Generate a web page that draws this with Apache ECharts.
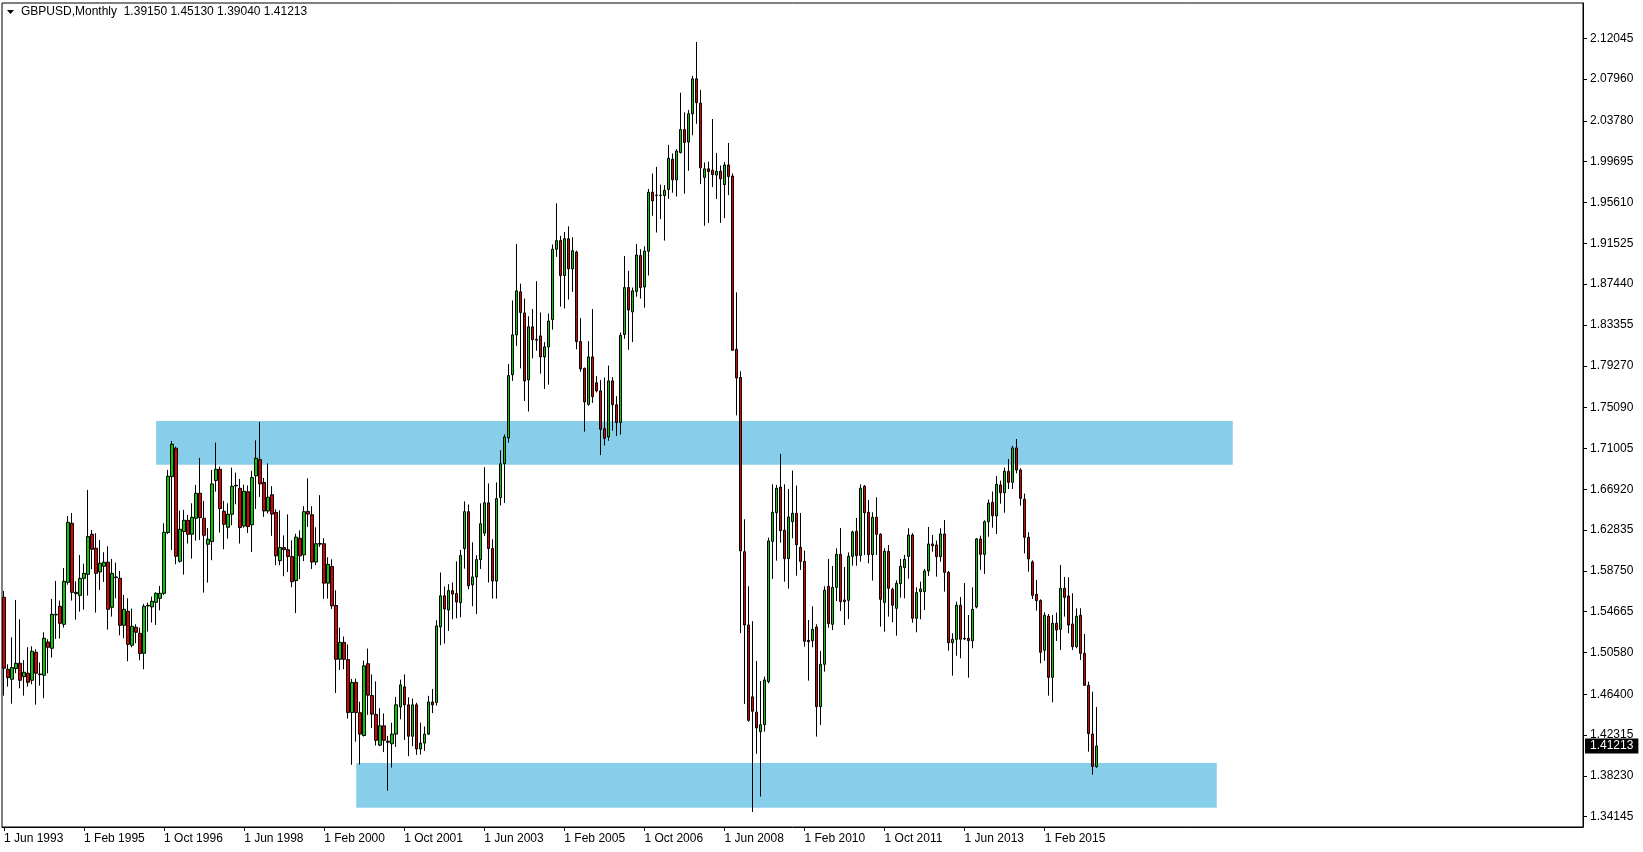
<!DOCTYPE html>
<html>
<head>
<meta charset="utf-8">
<script src="https://cdn.jsdelivr.net/npm/echarts@6/dist/echarts.min.js"></script>
<style>
html,body{margin:0;padding:0;background:#fff;}
#chart{width:1643px;height:852px;}
</style>
</head>
<body>
<div id="chart"></div>
<script>
// Monthly GBPUSD bars, Jun 1993 .. Mar 2016 (one entry per month)
const opens = [
1.5610,1.4890,1.4790,1.4897,1.4950,1.4816,1.4850,1.4780,1.5060,1.4843,
1.4830,1.5163,1.5100,1.5434,1.5520,1.5340,1.5760,1.6351,1.5660,1.5630,
1.5800,1.5840,1.6241,1.6101,1.5864,1.5921,1.5961,1.5510,1.5814,1.5800,
1.5330,1.5470,1.5130,1.5310,1.5250,1.5050,1.5524,1.5514,1.5560,1.5600,
1.5650,1.6258,1.6818,1.7102,1.5971,1.6268,1.6381,1.6241,1.6401,1.6651,
1.6401,1.6141,1.6168,1.6778,1.6891,1.6471,1.6311,1.6441,1.6725,1.6701,
1.6324,1.6667,1.6336,1.6826,1.6988,1.6760,1.6474,1.6636,1.6460,1.5977,
1.6108,1.6087,1.6018,1.5777,1.6201,1.6035,1.6470,1.6436,1.5963,1.6142,
1.6146,1.5752,1.5918,1.5528,1.4990,1.5159,1.4986,1.4458,1.4758,1.4455,
1.4227,1.4945,1.4627,1.4438,1.4131,1.4324,1.4170,1.4144,1.4241,1.4513,
1.4714,1.4534,1.4220,1.4534,1.4092,1.4151,1.4241,1.4562,1.4558,1.5314,
1.5625,1.5483,1.5677,1.5649,1.5556,1.6098,1.6467,1.5735,1.5814,1.5987,
1.6253,1.6556,1.6098,1.5773,1.6608,1.6947,1.7206,1.7838,1.8236,1.8667,
1.8456,1.7786,1.8317,1.8193,1.8226,1.8016,1.8116,1.8389,1.9094,1.9180,
1.8830,1.9199,1.8897,1.9065,1.8169,1.7901,1.7541,1.8016,1.7757,1.7676,
1.7297,1.7215,1.7776,1.7537,1.7359,1.8241,1.8710,1.8466,1.8672,1.9031,
1.8715,1.9074,1.9664,1.9635,1.9635,1.9630,1.9692,1.9994,1.9788,2.0061,
2.0291,2.0167,2.0449,2.0799,2.0555,1.9812,1.9898,1.9884,1.9836,1.9874,
1.9740,1.9937,1.9826,1.8092,1.7810,1.6066,1.5333,1.4614,1.4461,1.4266,
1.4336,1.4766,1.6170,1.6457,1.6714,1.6281,1.5997,1.6367,1.6451,1.6110,
1.5970,1.5180,1.5176,1.5313,1.4516,1.4940,1.5720,1.5340,1.5710,1.6040,
1.5583,1.5580,1.6020,1.6271,1.6030,1.6721,1.6461,1.6037,1.6411,1.6241,
1.5560,1.6070,1.5690,1.5500,1.5747,1.5907,1.6020,1.6234,1.5400,1.5667,
1.5667,1.5874,1.6144,1.6134,1.6017,1.6244,1.5860,1.5156,1.5190,1.5530,
1.5200,1.5200,1.5176,1.5513,1.6194,1.6040,1.6367,1.6561,1.6424,1.6734,
1.6657,1.6871,1.6761,1.7105,1.6884,1.6591,1.6211,1.5964,1.5640,1.5577,
1.5080,1.5420,1.4809,1.5350,1.5290,1.5700,1.5623,1.5343,1.5116,1.5430,
1.5050,1.4729,1.4242,1.39150];
const highs = [
1.5674,1.4940,1.5210,1.5584,1.5390,1.4983,1.5110,1.5120,1.5090,1.4957,
1.5260,1.5190,1.5594,1.5774,1.5577,1.5904,1.6424,1.6454,1.5770,1.6034,
1.5947,1.6685,1.6284,1.6251,1.6184,1.6061,1.6121,1.5994,1.5957,1.5874,
1.5634,1.5600,1.5497,1.5340,1.5307,1.5544,1.5557,1.5617,1.5660,1.5724,
1.6351,1.6885,1.7175,1.7118,1.6478,1.6485,1.6434,1.6551,1.6735,1.7005,
1.6575,1.6304,1.6885,1.7158,1.6918,1.6575,1.6551,1.6908,1.6858,1.6795,
1.6738,1.6729,1.6877,1.7181,1.7364,1.6805,1.6950,1.6722,1.6491,1.6481,
1.6229,1.6439,1.6180,1.6246,1.6280,1.6522,1.6801,1.6522,1.6311,1.6632,
1.6201,1.6011,1.5990,1.5680,1.5307,1.5218,1.5138,1.4793,1.4796,1.4565,
1.4976,1.5097,1.4838,1.4769,1.4500,1.4448,1.4222,1.4355,1.4613,1.4786,
1.4838,1.4610,1.4596,1.4555,1.4355,1.4317,1.4624,1.4693,1.5380,1.5859,
1.5718,1.5742,1.5759,1.5970,1.6084,1.6570,1.6539,1.6160,1.6032,1.6550,
1.6912,1.6750,1.6191,1.6760,1.7081,1.7239,1.7944,1.8581,1.9146,1.8749,
1.8600,1.8423,1.8495,1.8773,1.8461,1.8164,1.8451,1.9141,1.9553,1.9228,
1.9266,1.9323,1.9213,1.9079,1.8404,1.7910,1.8174,1.8495,1.7824,1.7786,
1.7810,1.7929,1.7814,1.7623,1.8260,1.9026,1.8878,1.8710,1.9146,1.9094,
1.9122,1.9697,1.9851,1.9918,1.9740,1.9735,2.0138,2.0052,2.0095,2.0660,
2.0464,2.0488,2.0828,2.1168,2.0689,1.9961,1.9970,2.0397,2.0057,1.9932,
1.9966,2.0157,1.9851,1.8662,1.7872,1.6391,1.5721,1.5371,1.4973,1.4772,
1.4816,1.6207,1.6741,1.6734,1.7045,1.6741,1.6694,1.6878,1.6728,1.6454,
1.6077,1.5383,1.5520,1.5340,1.5073,1.5720,1.5994,1.5924,1.6100,1.6304,
1.5914,1.6060,1.6277,1.6404,1.6741,1.6734,1.6584,1.6461,1.6611,1.6251,
1.6100,1.6134,1.5707,1.5780,1.5994,1.6034,1.6301,1.6251,1.5710,1.5767,
1.5894,1.6314,1.6234,1.6177,1.6301,1.6384,1.5874,1.5250,1.5567,1.5613,
1.5753,1.5433,1.5710,1.6204,1.6227,1.6381,1.6588,1.6668,1.6824,1.6778,
1.6908,1.6994,1.7125,1.7195,1.6901,1.6648,1.6261,1.5980,1.5784,1.5590,
1.5460,1.5443,1.5433,1.5457,1.5934,1.5814,1.5810,1.5650,1.5500,1.5500,
1.5243,1.4766,1.4666,1.45130];
const lows = [
1.4626,1.4716,1.4546,1.4850,1.4700,1.4626,1.4716,1.4740,1.4536,1.4726,
1.4600,1.4850,1.5007,1.5194,1.5197,1.5307,1.5737,1.5577,1.5387,1.5467,
1.5487,1.5627,1.5891,1.5457,1.5684,1.5764,1.5287,1.5417,1.5600,1.5230,
1.5200,1.4970,1.5110,1.5150,1.4980,1.4890,1.5267,1.5357,1.5334,1.5480,
1.5634,1.6244,1.6084,1.5941,1.5957,1.5837,1.6148,1.5997,1.6178,1.6184,
1.5657,1.5757,1.5981,1.6668,1.6258,1.6091,1.6198,1.6331,1.6541,1.6148,
1.6308,1.6253,1.6063,1.6494,1.6615,1.6415,1.6450,1.6225,1.5932,1.5932,
1.5821,1.5863,1.5711,1.5452,1.5794,1.5973,1.6315,1.5894,1.5932,1.6115,
1.5594,1.5597,1.5494,1.4652,1.4883,1.4890,1.4396,1.3934,1.4165,1.3937,
1.4217,1.4434,1.4303,1.4127,1.4120,1.4061,1.3675,1.3906,1.4113,1.4389,
1.4182,1.4020,1.4120,1.4034,1.4037,1.4072,1.4231,1.4451,1.4527,1.5131,
1.5148,1.5273,1.5390,1.5400,1.5411,1.5897,1.5690,1.5521,1.5442,1.5894,
1.6225,1.5759,1.5597,1.5597,1.6529,1.6554,1.7158,1.7776,1.8126,1.7901,
1.7575,1.7469,1.8001,1.8078,1.7848,1.7695,1.7738,1.8289,1.9017,1.8519,
1.8500,1.8590,1.8667,1.8092,1.7867,1.7268,1.7527,1.7556,1.7661,1.7033,
1.7129,1.7177,1.7278,1.7225,1.7239,1.8198,1.8087,1.8164,1.8619,1.8600,
1.8509,1.8830,1.9429,1.9261,1.9395,1.9180,1.9597,1.9659,1.9621,2.0052,
1.9649,1.9879,2.0234,2.0349,1.9745,1.9328,1.9357,1.9716,1.9597,1.9357,
1.9405,1.9635,1.8078,1.7431,1.5251,1.4542,1.4365,1.3462,1.4044,1.3617,
1.4266,1.4749,1.5794,1.5977,1.6157,1.5767,1.5697,1.6201,1.5827,1.5884,
1.5116,1.4776,1.5110,1.4216,1.4332,1.4866,1.5306,1.5283,1.5573,1.5473,
1.5333,1.5393,1.5927,1.5927,1.5967,1.6034,1.5950,1.5777,1.6034,1.5317,
1.5266,1.5417,1.5360,1.5226,1.5607,1.5600,1.5797,1.5356,1.5260,1.5390,
1.5483,1.5824,1.6067,1.5817,1.5967,1.5667,1.5076,1.4826,1.5026,1.5000,
1.5183,1.4806,1.5100,1.5500,1.5884,1.5844,1.6217,1.6307,1.6244,1.6547,
1.6457,1.6694,1.6694,1.6851,1.6527,1.6050,1.5867,1.5593,1.5477,1.4950,
1.4976,1.4626,1.4559,1.5173,1.5083,1.5417,1.5250,1.5083,1.5100,1.4983,
1.4726,1.4065,1.3835,1.39040];
const closes = [
1.4900,1.4806,1.4907,1.4950,1.4780,1.4860,1.4760,1.5070,1.4850,1.4836,
1.5200,1.5110,1.5440,1.5440,1.5350,1.5770,1.6361,1.5660,1.5647,1.5800,
1.5850,1.6218,1.6091,1.5850,1.5951,1.5961,1.5490,1.5850,1.5807,1.5330,
1.5490,1.5140,1.5320,1.5260,1.5047,1.5520,1.5530,1.5570,1.5650,1.5650,
1.6261,1.6821,1.7142,1.6021,1.6291,1.6381,1.6241,1.6411,1.6651,1.6408,
1.6231,1.6191,1.6745,1.6891,1.6498,1.6341,1.6441,1.6721,1.6731,1.6308,
1.6671,1.6318,1.6808,1.7002,1.6746,1.6474,1.6612,1.6443,1.6025,1.6108,
1.6087,1.6018,1.5766,1.6212,1.6025,1.6467,1.6443,1.5963,1.6146,1.6149,
1.5752,1.5939,1.5525,1.4990,1.5159,1.4990,1.4458,1.4758,1.4458,1.4241,
1.4924,1.4631,1.4441,1.4179,1.4324,1.4179,1.4160,1.4241,1.4534,1.4734,
1.4534,1.4220,1.4534,1.4092,1.4151,1.4241,1.4562,1.4534,1.5324,1.5625,
1.5494,1.5677,1.5642,1.5563,1.6028,1.6467,1.5725,1.5814,1.5987,1.6346,
1.6556,1.6098,1.5773,1.6598,1.6946,1.7215,1.7829,1.8236,1.8677,1.8461,
1.7776,1.8317,1.8188,1.8183,1.8016,1.8116,1.8375,1.9094,1.9180,1.8830,
1.9199,1.8897,1.9079,1.8169,1.7896,1.7565,1.8016,1.7618,1.7676,1.7292,
1.7201,1.7776,1.7537,1.7359,1.8231,1.8710,1.8485,1.8677,1.9036,1.8710,
1.9074,1.9664,1.9578,1.9630,1.9632,1.9683,2.0004,1.9788,2.0076,2.0291,
2.0162,2.0449,2.0799,2.0560,1.9908,1.9898,1.9870,1.9841,1.9874,1.9798,
1.9937,1.9822,1.8083,1.7805,1.6075,1.5333,1.4379,1.4470,1.4303,1.4335,
1.4783,1.6174,1.6461,1.6701,1.6277,1.5997,1.6414,1.6451,1.6137,1.5970,
1.5170,1.5166,1.5290,1.4516,1.4940,1.5680,1.5347,1.5710,1.6040,1.5567,
1.5567,1.6020,1.6264,1.6027,1.6701,1.6457,1.6037,1.6411,1.6241,1.5590,
1.6070,1.5700,1.5530,1.5750,1.5920,1.5990,1.6234,1.5400,1.5657,1.5693,
1.5874,1.6144,1.6127,1.6017,1.6244,1.5860,1.5156,1.5190,1.5530,1.5190,
1.5193,1.5176,1.5490,1.6194,1.6040,1.6367,1.6554,1.6427,1.6741,1.6657,
1.6871,1.6761,1.7105,1.6884,1.6601,1.6211,1.5994,1.5630,1.5577,1.5060,
1.5430,1.4809,1.5350,1.5283,1.5700,1.5610,1.5333,1.5116,1.5420,1.5050,
1.4729,1.4246,1.3918,1.41213];

const xTickLabels = ["1 Jun 1993","1 Feb 1995","1 Oct 1996","1 Jun 1998","1 Feb 2000","1 Oct 2001","1 Jun 2003","1 Feb 2005","1 Oct 2006","1 Jun 2008","1 Feb 2010","1 Oct 2011","1 Jun 2013","1 Feb 2015"];
const xTickEvery = 20;
const yTicks = [2.12045,2.07960,2.03780,1.99695,1.95610,1.91525,1.87440,1.83355,1.79270,1.75090,1.71005,1.66920,1.62835,1.58750,1.54665,1.50580,1.46400,1.42315,1.38230,1.34145];
const yMin = 1.33114, yMax = 2.15578;
const lastPrice = 1.41213;
const headerText = "GBPUSD,Monthly  1.39150 1.45130 1.39040 1.41213";
const totalSlots = 395; // visible month slots incl. right-side chart shift
// zones: [startBar, endBar, topPrice, bottomPrice]
const zoneUpper = [38, 307, 1.7375, 1.6937];
const zoneLower = [88, 303, 1.3952, 1.3505];

const categories = Array.from({length: totalSlots}, (_, i) => i);
const candleData = opens.map((o, i) => [o, closes[i], lows[i], highs[i]]);

const FONT = "Liberation Sans";
const chart = echarts.init(document.getElementById('chart'), null, {renderer: 'canvas'});
chart.setOption({
  animation: false,
  backgroundColor: '#ffffff',
  textStyle: {fontFamily: FONT},
  grid: {left: 2, right: 60, top: 3, bottom: 25, show: true, borderColor: '#000', borderWidth: 1, backgroundColor: '#fff'},
  graphic: [
    {type: 'polygon', shape: {points: [[7, 10], [14, 10], [10.5, 14]]}, style: {fill: '#000'}, z: 100},
    {type: 'text', left: 21, top: 6, style: {text: headerText, fill: '#000', font: '12px "' + FONT + '"'}, z: 100}
  ],
  xAxis: {
    type: 'category',
    data: categories,
    boundaryGap: true,
    axisLine: {show: true, lineStyle: {color: '#000', width: 1}},
    axisTick: {show: true, alignWithLabel: true, length: 4, lineStyle: {color: '#000'},
      interval: (idx) => idx % xTickEvery === 0 && idx / xTickEvery < xTickLabels.length},
    axisLabel: {
      interval: (idx) => idx % xTickEvery === 0 && idx / xTickEvery < xTickLabels.length,
      formatter: (v, idx) => xTickLabels[idx / xTickEvery] || '',
      align: 'left', margin: 6, color: '#000', fontSize: 12, fontFamily: FONT
    },
    splitLine: {show: false}
  },
  yAxis: [
    {
      type: 'value', position: 'right', min: yMin, max: yMax, scale: true,
      axisLine: {show: true, lineStyle: {color: '#000', width: 1}},
      axisTick: {show: true, length: 4, customValues: yTicks, lineStyle: {color: '#000'}},
      axisLabel: {customValues: yTicks, formatter: (v) => v.toFixed(5), margin: 7, color: '#000', fontSize: 12, fontFamily: FONT},
      splitLine: {show: false}
    },
    {
      type: 'value', position: 'right', min: yMin, max: yMax, scale: true,
      axisLine: {show: false}, axisTick: {show: false}, splitLine: {show: false},
      axisLabel: {customValues: [lastPrice], formatter: (v) => v.toFixed(5), margin: 2,
        color: '#fff', backgroundColor: '#000', padding: [2, 5, 1, 5], fontSize: 12, fontFamily: FONT}
    }
  ],
  series: [
    {
      type: 'line', data: [], z: 1, silent: true,
      markArea: {
        silent: true,
        itemStyle: {color: '#87CEEB', opacity: 1},
        data: [
          [{xAxis: zoneUpper[0], yAxis: zoneUpper[2]}, {xAxis: zoneUpper[1], yAxis: zoneUpper[3]}],
          [{xAxis: zoneLower[0], yAxis: zoneLower[2]}, {xAxis: zoneLower[1], yAxis: zoneLower[3]}]
        ]
      }
    },
    {
      type: 'candlestick', data: candleData, z: 5, barWidth: 3,
      itemStyle: {color: '#00CC00', color0: '#DD0000', borderColor: '#000', borderColor0: '#000', borderWidth: 1}
    }
  ]
});
</script>
</body>
</html>
